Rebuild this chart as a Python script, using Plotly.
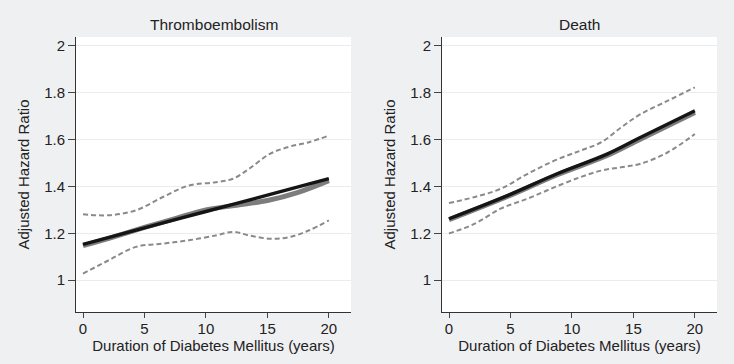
import plotly.graph_objects as go

# ---------------- data ----------------
years_est = [0, 5, 10, 15, 20]
te_black = [1.153, 1.223, 1.293, 1.363, 1.433]
te_gray_x = [0, 2.5, 5, 7.5, 10, 12.5, 15, 17.5, 20]
te_gray = [1.147, 1.185, 1.225, 1.263, 1.300, 1.320, 1.340, 1.375, 1.425]

te_ci_x = [0, 2.1, 4.3, 6.5, 8.6, 10.8, 12.2, 13.5, 15.2, 16.8, 18.4, 20]
te_upper = [1.281, 1.277, 1.298, 1.355, 1.404, 1.418, 1.433, 1.475, 1.539, 1.570, 1.589, 1.617]
te_lower = [1.028, 1.085, 1.142, 1.156, 1.170, 1.191, 1.206, 1.191, 1.177, 1.184, 1.213, 1.255]

de_x = [0, 4.8, 8.8, 12.9, 15.6, 20]
de_black = [1.262, 1.362, 1.454, 1.539, 1.610, 1.723]
de_gray = [1.258, 1.358, 1.450, 1.533, 1.603, 1.716]

de_ci_x = [0, 2.1, 4.2, 6.4, 8.6, 10.7, 12.4, 14.0, 15.6, 17.8, 20]
de_upper = [1.329, 1.355, 1.390, 1.454, 1.511, 1.553, 1.589, 1.652, 1.709, 1.766, 1.823]
de_lower = [1.199, 1.241, 1.305, 1.348, 1.397, 1.440, 1.468, 1.482, 1.497, 1.546, 1.624]

panel_titles = ["Thromboembolism", "Death"]
x_ticks = [0, 5, 10, 15, 20]
y_ticks = [1, 1.2, 1.4, 1.6, 1.8, 2]
y_tick_labels = ["1", "1.2", "1.4", "1.6", "1.8", "2"]
x_title = "Duration of Diabetes Mellitus (years)"
y_title = "Adjusted Hazard Ratio"

# ---------------- figure ----------------
fig = go.Figure()
DASH = "5px,3px"
CI_COLOR = "#8a8a8a"

def add_panel(xa, ya, ci_x, up, lo, gx, gy, bx, by):
    fig.add_trace(go.Scatter(x=ci_x, y=up, mode="lines", xaxis=xa, yaxis=ya,
                             line=dict(color=CI_COLOR, width=2, dash=DASH, shape="spline"),
                             showlegend=False, hoverinfo="skip"))
    fig.add_trace(go.Scatter(x=ci_x, y=lo, mode="lines", xaxis=xa, yaxis=ya,
                             line=dict(color=CI_COLOR, width=2, dash=DASH, shape="spline"),
                             showlegend=False, hoverinfo="skip"))
    fig.add_trace(go.Scatter(x=gx, y=gy, mode="lines", xaxis=xa, yaxis=ya,
                             line=dict(color="#7d7d7d", width=5, shape="spline"),
                             showlegend=False))
    fig.add_trace(go.Scatter(x=bx, y=by, mode="lines", xaxis=xa, yaxis=ya,
                             line=dict(color="#151515", width=3.4, shape="spline"),
                             showlegend=False))

add_panel("x", "y", te_ci_x, te_upper, te_lower, te_gray_x, te_gray, years_est, te_black)
add_panel("x2", "y2", de_ci_x, de_upper, de_lower, de_x, de_gray, de_x, de_black)

W, H = 734, 364
T, B = 37, 52
TXT = "#222"
FS = 15
BG = "#eff0f2"
font = dict(family="Liberation Sans, Arial, sans-serif", size=FS, color=TXT)

xcommon = dict(range=[-0.57, 21.8], tickvals=x_ticks, ticks="outside", ticklen=5,
               tickcolor="#444", tickwidth=1, showline=True, linecolor="#333", linewidth=1,
               showgrid=False, zeroline=False, tickfont=dict(size=FS, color=TXT),
               ticklabelstandoff=-2,
               title=dict(text=x_title, font=dict(size=FS, color=TXT), standoff=3),
               automargin=False, fixedrange=True)
ycommon = dict(range=[0.864, 2.038], tickvals=y_ticks, ticktext=y_tick_labels,
               ticks="outside", ticklen=7, tickcolor="#444", tickwidth=1,
               showline=True, linecolor="#333", linewidth=1,
               showgrid=True, gridcolor="#ececec", gridwidth=1, zeroline=False,
               tickfont=dict(size=FS, color=TXT),
               title=dict(text=y_title, font=dict(size=FS, color=TXT), standoff=10),
               automargin=False, fixedrange=True, domain=[0, 1])

title_y = 1 + (T - 25) / (H - T - B)
fig.update_layout(
    width=W, height=H,
    margin=dict(l=0, r=0, t=T, b=B, autoexpand=False),
    paper_bgcolor=BG,
    plot_bgcolor="#ffffff",
    font=font,
    showlegend=False,
    xaxis=dict(xcommon, domain=[76 / W, 351 / W], anchor="y"),
    yaxis=dict(ycommon, anchor="x"),
    xaxis2=dict(xcommon, domain=[442 / W, 717 / W], anchor="y2"),
    yaxis2=dict(ycommon, anchor="x2"),
    annotations=[
        dict(text=panel_titles[0], x=(76 + 351) / 2 / W, y=title_y, xref="paper", yref="paper",
             showarrow=False, font=dict(size=15.5, color=TXT), xanchor="center", yanchor="middle"),
        dict(text=panel_titles[1], x=(442 + 717) / 2 / W, y=title_y, xref="paper", yref="paper",
             showarrow=False, font=dict(size=15.5, color=TXT), xanchor="center", yanchor="middle"),
    ],
)

fig.write_html("out.html",
               config={"displayModeBar": False},
               post_script="document.body.style.margin='0';document.body.style.background='%s';" % BG)
